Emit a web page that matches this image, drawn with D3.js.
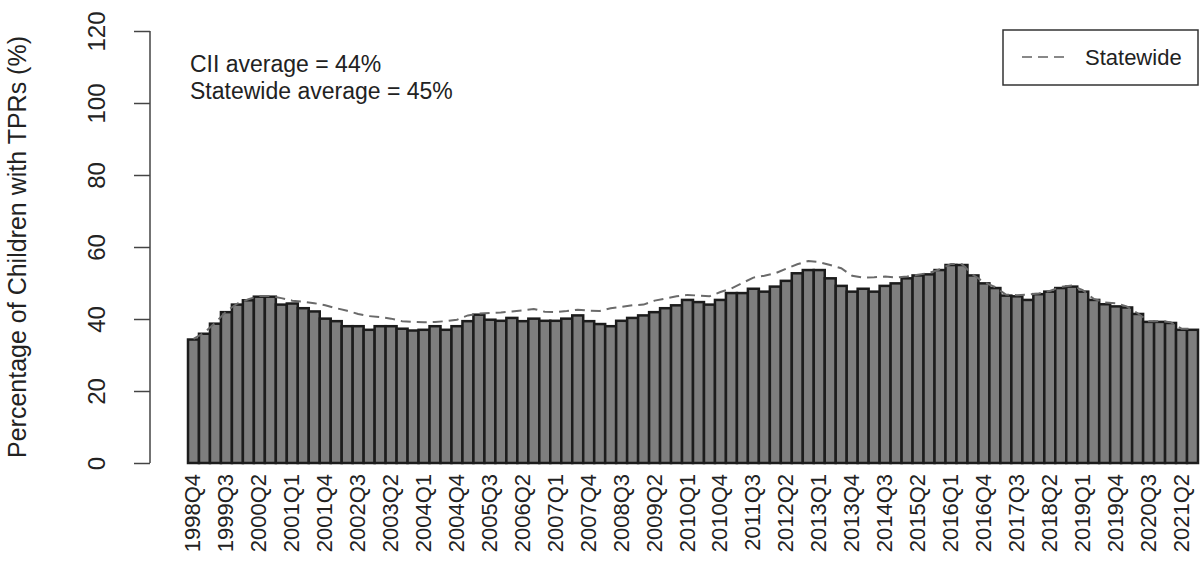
<!DOCTYPE html>
<html>
    <head>
		<meta charset= "utf-8">
		<script src= "https://cdn.jsdelivr.net/npm/d3@7"></script>
        <script>
            // quarters 1998Q4 .. 2021Q3
            const startYear = 1998, startQ = 4, nQuarters = 92;

            // county (CII) share per quarter, %
            const ciiValues = [34.3, 35.9, 38.7, 41.9, 44.0, 45.2, 46.2, 46.2, 44.0, 44.3,
                               43.0, 42.1, 40.1, 39.4, 38.0, 38.0, 37.0, 38.0, 38.0, 37.3,
                               36.8, 37.0, 38.0, 37.0, 38.0, 39.4, 41.2, 39.8, 39.5, 40.3,
                               39.4, 40.1, 39.5, 39.5, 40.1, 41.0, 39.4, 38.6, 38.0, 39.5,
                               40.3, 41.0, 41.9, 43.0, 43.8, 45.3, 44.7, 44.0, 45.3, 47.2,
                               47.2, 48.4, 47.6, 49.0, 50.6, 52.7, 53.6, 53.6, 51.3, 49.2,
                               47.6, 48.4, 47.6, 49.2, 49.9, 51.3, 52.1, 52.4, 53.6, 55.0,
                               55.0, 52.1, 49.9, 48.6, 46.5, 46.3, 45.3, 46.9, 47.6, 48.6,
                               49.0, 47.6, 45.3, 44.1, 43.5, 43.2, 41.4, 39.2, 39.2, 38.9,
                               37.0, 37.0];

            // statewide share per quarter, %
            const stateValues = [34.5, 36.2, 39.0, 42.2, 44.3, 45.5, 46.4, 46.4, 45.8, 45.1,
                                 44.8, 44.4, 43.8, 43.0, 42.3, 41.4, 40.8, 40.5, 40.1, 39.4,
                                 39.2, 39.1, 39.2, 39.4, 39.8, 41.0, 41.5, 41.7, 41.8, 42.1,
                                 42.4, 42.8, 42.0, 41.9, 42.2, 42.6, 42.3, 42.2, 43.0, 43.4,
                                 43.8, 44.0, 45.1, 45.7, 46.3, 46.7, 46.5, 46.3, 47.5, 48.5,
                                 50.0, 51.5, 52.0, 52.7, 54.0, 55.2, 56.1, 55.8, 55.0, 54.1,
                                 52.0, 51.5, 51.6, 51.8, 51.5, 51.8, 52.3, 52.8, 53.8, 55.3,
                                 55.2, 52.3, 50.2, 48.9, 46.8, 46.6, 46.8, 47.1, 47.8, 48.9,
                                 49.3, 48.0, 45.6, 44.6, 44.4, 43.5, 41.6, 39.4, 39.4, 39.1,
                                 37.3, 37.3];

            const yTicks = [0, 20, 40, 60, 80, 100, 120];
            const notes = ["CII average = 44%", "Statewide average = 45%"];
            const legendLabel = "Statewide";
            const yTitle = "Percentage of Children with TPRs (%)";

            function makeSVG() {

				var svg = d3.select("#fig");
				const font = "'Liberation Sans', Arial, sans-serif";

				var quarters = [];
				for (var i = 0; i < nQuarters; i++) {
					var q = startQ - 1 + i;
					quarters.push((startYear + Math.floor(q / 4)) + "Q" + (q % 4 + 1));
				}
				// only every third quarter gets a label
				const xLabels = quarters.filter((d, i) => i % 3 == 0);

				// X scale

                const xSc = d3.scaleBand()
                              .domain(quarters)
                              .range([188, 1198])
                              .padding(0);

				// Y scale and axis

				const ySc = d3.scaleLinear()
                              .domain([0, 120])
				              .range([463, 31]);

				var yg = svg.append('g')
				            .attr('transform', 'translate(150,0)');
                yg.call(d3.axisLeft(ySc).tickValues(yTicks).tickSize(16).tickFormat(d3.format("d")));
                yg.select(".domain").attr("stroke", "#444").attr("stroke-width", 1.5)
                  .attr("d", `M0,${ySc(0)}V${ySc(120)}`);
                yg.selectAll(".tick line").attr("stroke", "#444").attr("stroke-width", 1.5);
                yg.selectAll(".tick text")
                  .attr("x", null).attr("dy", null)
                  .attr("font-family", font)
                  .attr("font-size", 24)
                  .attr("fill", "#222")
                  .attr("text-anchor", "middle")
                  .attr("transform", "translate(-45,0) rotate(-90)");

                svg.append("text")
                   .attr("transform", `translate(26,${(ySc(0) + ySc(120)) / 2}) rotate(-90)`)
                   .attr("text-anchor", "middle")
                   .attr("font-family", font)
                   .attr("font-size", 25)
                   .attr("fill", "#222")
                   .text(yTitle);

                // Draw bars

                svg.selectAll("rect.bar")
                   .data(ciiValues)
                   .enter()
                   .append("rect")
                   .attr("class", "bar")
                   .attr("x", (d, i) => xSc(quarters[i]))
                   .attr("y", d => ySc(d))
                   .attr("width", xSc.bandwidth())
                   .attr("height", d => ySc(0) - ySc(d))
                   .attr("fill", "#7e7e7e")
                   .attr("stroke", "#1c1c1c")
                   .attr("stroke-width", 2.5);

                // X labels

                svg.selectAll("text.xlab")
                   .data(xLabels)
                   .enter()
                   .append("text")
                   .attr("class", "xlab")
                   .attr("transform", d => `translate(${xSc(d) + xSc.bandwidth() / 2 + 7},474) rotate(-90)`)
                   .attr("text-anchor", "end")
                   .attr("font-family", font)
                   .attr("font-size", 22)
                   .attr("fill", "#222")
                   .text(d => d);

                // Statewide line

                var lnMkr = d3.line()
                              .x((d, i) => xSc(quarters[i]) + xSc.bandwidth() / 2)
                              .y(d => ySc(d));

                svg.append("path")
                   .attr("d", lnMkr(stateValues))
                   .attr("fill", "none")
                   .attr("stroke", "#6a6a6a")
                   .attr("stroke-width", 2)
                   .attr("stroke-dasharray", "10,6");

                // Notes

                svg.selectAll("text.note")
                   .data(notes)
                   .enter()
                   .append("text")
                   .attr("class", "note")
                   .attr("x", 190)
                   .attr("y", (d, i) => 72 + i * 27)
                   .attr("font-family", font)
                   .attr("font-size", 23)
                   .attr("fill", "#222")
                   .text(d => d);

                // Legend

                var lg = svg.append("g");
                lg.append("rect")
                  .attr("x", 1003).attr("y", 30)
                  .attr("width", 195).attr("height", 55)
                  .attr("fill", "white")
                  .attr("stroke", "#333")
                  .attr("stroke-width", 1.5);
                lg.append("line")
                  .attr("x1", 1022).attr("x2", 1068)
                  .attr("y1", 57).attr("y2", 57)
                  .attr("stroke", "#888")
                  .attr("stroke-width", 2)
                  .attr("stroke-dasharray", "10,6");
                lg.append("text")
                  .attr("x", 1085).attr("y", 65)
                  .attr("font-family", font)
                  .attr("font-size", 22)
                  .attr("fill", "#222")
                  .text(legendLabel);
            }
        </script>
    </head>
    <body onload="makeSVG()" style="margin:0">

        <svg id="fig" width="1203" height="562" style="background: white" />

    </body>
</html>
